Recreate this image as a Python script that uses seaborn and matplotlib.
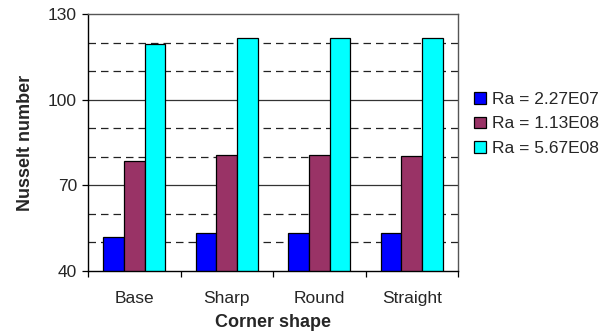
"""
Nusselt number vs corner shape for three Rayleigh numbers.
"""
import numpy as np
import pandas as pd
import matplotlib.pyplot as plt
import seaborn as sns
from matplotlib.ticker import FixedLocator

shapes = ["Base", "Sharp", "Round", "Straight"]
ra_labels = ["Ra = 2.27E07", "Ra = 1.13E08", "Ra = 5.67E08"]
nu_ra1 = [51.9, 53.4, 53.4, 53.2]
nu_ra2 = [78.5, 80.6, 80.6, 80.2]
nu_ra3 = [119.5, 121.5, 121.5, 121.5]
colors = ["#0000FF", "#993366", "#00FFFF"]

df = pd.DataFrame({
    "shape": shapes * 3,
    "Ra": [ra_labels[0]] * 4 + [ra_labels[1]] * 4 + [ra_labels[2]] * 4,
    "Nu": nu_ra1 + nu_ra2 + nu_ra3,
})

sns.set_theme(style="white")
plt.rcParams["font.family"] = ["Liberation Sans", "DejaVu Sans"]

fig = plt.figure(figsize=(6.1, 3.36), dpi=100)
ax = fig.add_axes([0.1443, 0.1935, 0.6066, 0.7649])

# gridlines: solid on major, dashed on minor
for y in [70, 100]:
    ax.axhline(y, color="#333333", linewidth=0.9, zorder=0)
for y in [50, 60, 80, 90, 110, 120]:
    ax.axhline(y, color="#222222", linewidth=0.9, linestyle=(0, (6, 4)), zorder=0)

sns.barplot(data=df, x="shape", y="Nu", hue="Ra", palette=colors,
            width=0.67, edgecolor="black", linewidth=0.9, ax=ax, zorder=2,
            saturation=1)

ax.set_ylim(40, 130)
ax.set_xlim(-0.5, 3.5)
ax.set_yticks([40, 70, 100, 130])
ax.tick_params(axis="y", which="major", direction="out", length=4, width=0.9,
               color="black", labelsize=12.5, pad=4, left=True)
ax.tick_params(axis="x", which="major", length=0, labelsize=12.5, pad=14.5)
ax.xaxis.set_minor_locator(FixedLocator([-0.5, 0.5, 1.5, 2.5, 3.5]))
ax.tick_params(axis="x", which="minor", direction="out", length=4, width=0.9,
               color="black", bottom=True)

for side in ["left", "bottom"]:
    ax.spines[side].set_color("black")
    ax.spines[side].set_linewidth(1.0)
for side in ["top", "right"]:
    ax.spines[side].set_color("#555555")
    ax.spines[side].set_linewidth(1.0)

ax.set_xlabel("Corner shape", fontsize=13, fontweight="bold", labelpad=6)
ax.set_ylabel("Nusselt number", fontsize=13, fontweight="bold", labelpad=10)

ax.legend(loc="center left", bbox_to_anchor=(1.025, 0.572), frameon=False,
          handlelength=0.65, handleheight=0.65, handletextpad=0.35,
          labelspacing=0.55, fontsize=12.5, borderaxespad=0)

fig.savefig("out.png", dpi=100)
